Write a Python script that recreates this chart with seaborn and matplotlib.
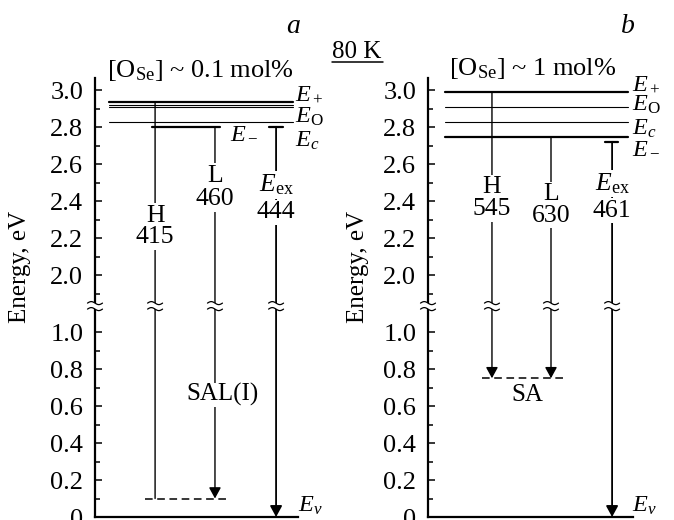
import numpy as np
import pandas as pd
import matplotlib
matplotlib.use("Agg")
import matplotlib.pyplot as plt
import matplotlib.transforms as mtransforms
from matplotlib.lines import Line2D
from matplotlib.patches import Polygon
import seaborn as sns

# ---------------- data ----------------
titles = [r"[O$_{\mathrm{Se}}$] ~ 0.1 mol%", r"[O$_{\mathrm{Se}}$] ~ 1 mol%"]
panel_letters = ["a", "b"]
temperature = "80 K"

# energy levels (eV)
levels_a_names = ["E+", "EO", "EO2", "Ec", "E-"]
levels_a_E = [2.937, 2.918, 2.908, 2.829, 2.801]
levels_a_weight = ["thick", "thin", "thin", "thin", "thick"]
levels_b_names = ["E+", "EO", "Ec", "E-"]
levels_b_E = [2.991, 2.910, 2.825, 2.748]
levels_b_weight = ["thick", "thin", "thin", "thick"]

# transitions
transitions = ["H", "L", "Eex"]
wavelengths_a = [415, 460, 444]
start_a = [2.937, 2.801, 2.801]
end_a = [0.10, 0.10, 0.0]
arrow_a = [False, True, True]
wavelengths_b = [545, 630, 461]
start_b = [2.991, 2.748, 2.72]
end_b = [0.75, 0.75, 0.0]
arrow_b = [True, True, True]

# acceptor levels
sal_E = 0.10
sa_E = 0.75

major_ticks = [0, 0.2, 0.4, 0.6, 0.8, 1.0, 2.0, 2.2, 2.4, 2.6, 2.8, 3.0]
major_labels = ["0", "0.2", "0.4", "0.6", "0.8", "1.0", "2.0", "2.2", "2.4", "2.6", "2.8", "3.0"]
minor_ticks = [0.1, 0.3, 0.5, 0.7, 0.9, 1.9, 2.1, 2.3, 2.5, 2.7, 2.9]

# ---------------- layout (positions in axes x units 0..1) ----------------
lay = {
    "a": dict(
        rect=[95 / 674, 3 / 520, 203 / 674, 439 / 520],
        level_span={"E+": (0.069, 0.975), "EO": (0.069, 0.975), "EO2": (0.069, 0.975),
                    "Ec": (0.069, 0.975), "E-": (0.281, 0.616)},
        tx=[0.296, 0.591, 0.892],
        cap=(0.857, 0.926),
        dash=(0.246, 0.665),
        lab1_y=[2.288, 2.504, 2.450], lab2_y=[2.171, 2.378, 2.306],
        elabels=[(r"$E_+$", 0.985, 2.946), (r"$E_{\mathrm{O}}$", 0.985, 2.822),
                 (r"$E_c$", 0.985, 2.692), (r"$E_-$", 0.665, 2.739)],
        ev=(1.0, 0.027),
        acc_label=("SAL(I)", 0.626, 0.66),
    ),
    "b": dict(
        rect=[428 / 674, 3 / 520, 205 / 674, 439 / 520],
        level_span={"E+": (0.083, 0.976), "EO": (0.083, 0.976),
                    "Ec": (0.083, 0.976), "E-": (0.083, 0.976)},
        tx=[0.312, 0.600, 0.898],
        cap=(0.863, 0.927),
        dash=(0.263, 0.668),
        lab1_y=[2.441, 2.405, 2.459], lab2_y=[2.324, 2.288, 2.315],
        elabels=[(r"$E_+$", 0.995, 3.0), (r"$E_{\mathrm{O}}$", 0.995, 2.89),
                 (r"$E_c$", 0.995, 2.757), (r"$E_-$", 0.995, 2.66)],
        ev=(0.995, 0.027),
        acc_label=("SA", 0.483, 0.66),
    ),
}

# ---------------- style ----------------
sns.set_theme(style="ticks")
plt.rcParams.update({
    "font.family": ["Liberation Serif", "DejaVu Serif"],
    "mathtext.fontset": "custom",
    "mathtext.rm": "Liberation Serif",
    "mathtext.it": "Liberation Serif:italic",
    "mathtext.bf": "Liberation Serif:bold",
    "axes.edgecolor": "black",
    "axes.linewidth": 1.5,
    "xtick.color": "black",
    "ytick.color": "black",
    "text.color": "black",
    "axes.facecolor": "white",
    "figure.facecolor": "white",
})

# broken energy axis
LO, HI, GAP = 1.13, 1.842, 0.02
E_BREAK = (LO + HI) / 2


def fwd(E):
    E = np.asarray(E, dtype=float)
    return np.where(E <= LO, E,
                    np.where(E >= HI, E - (HI - LO) + GAP, LO + (E - LO) / (HI - LO) * GAP))


def inv(t):
    t = np.asarray(t, dtype=float)
    return np.where(t <= LO, t,
                    np.where(t >= LO + GAP, t + (HI - LO) - GAP, LO + (t - LO) / GAP * (HI - LO)))


fig = plt.figure(figsize=(6.74, 5.2), dpi=100)


def break_mark(ax, x):
    tr = fig.dpi_scale_trans + mtransforms.ScaledTranslation(x, E_BREAK, ax.transData)
    u = np.linspace(-0.075, 0.075, 50)
    wave = 0.015 * np.sin(2 * np.pi * (u + 0.075) / 0.15)
    up = wave + 0.03
    lo = wave - 0.03
    poly = np.concatenate([np.column_stack([u, up]), np.column_stack([u[::-1], lo[::-1]])])
    ax.add_patch(Polygon(poly, closed=True, facecolor="white", edgecolor="none",
                         transform=tr, zorder=6, clip_on=False))
    for c in (up, lo):
        ax.add_line(Line2D(u, c, color="black", lw=0.9, transform=tr, zorder=7, clip_on=False))


panels = [
    ("a", levels_a_names, levels_a_E, levels_a_weight, wavelengths_a, start_a, end_a, arrow_a, sal_E),
    ("b", levels_b_names, levels_b_E, levels_b_weight, wavelengths_b, start_b, end_b, arrow_b, sa_E),
]

for key, names, Es, weights, wls, starts, ends, arrows, accE in panels:
    L = lay[key]
    ax = fig.add_axes(L["rect"])

    # horizontal energy levels via seaborn
    rows = []
    for n, e, w in zip(names, Es, weights):
        x0, x1 = L["level_span"][n]
        rows.append(dict(x=x0, E=e, level=n, weight=w))
        rows.append(dict(x=x1, E=e, level=n, weight=w))
    df = pd.DataFrame(rows)
    sns.lineplot(data=df, x="x", y="E", units="level", estimator=None, size="weight",
                 sizes={"thick": 1.6, "thin": 0.8}, color="black", legend=False,
                 sort=False, ax=ax)

    # acceptor level (dashed)
    acc = pd.DataFrame({"x": list(L["dash"]), "E": [accE, accE]})
    sns.lineplot(data=acc, x="x", y="E", color="black", lw=1.1, ax=ax,
                 linestyle=(0, (5, 3)), legend=False)

    # Eex start cap
    ax.plot(list(L["cap"]), [starts[2], starts[2]], color="black", lw=1.6)

    ax.set_yscale("function", functions=(fwd, inv))
    ax.set_xlim(0, 1)
    ax.set_ylim(0, 3.065)
    ax.set_xlabel("")
    ax.set_ylabel("")

    # transitions
    for i, (t, wl, s, e, arr) in enumerate(zip(transitions, wls, starts, ends, arrows)):
        x = L["tx"][i]
        style = "-|>,head_length=0.55,head_width=0.3" if arr else "-"
        lw = 1.3 if t == "Eex" else 1.0
        ax.annotate("", xy=(x, e), xytext=(x, s),
                    arrowprops=dict(arrowstyle=style, color="black", lw=lw,
                                    shrinkA=0, shrinkB=0, mutation_scale=12),
                    zorder=2)
        top = r"$E_{\mathrm{ex}}$" if t == "Eex" else t
        bb = dict(facecolor="white", edgecolor="none", pad=1.2)
        ax.text(x, L["lab1_y"][i], top, ha="center", va="baseline",
                fontsize=18.5, bbox=bb, zorder=4)
        ax.text(x, L["lab2_y"][i], str(wl), ha="center", va="baseline",
                fontsize=18.5, bbox=bb, zorder=4)

    # level labels
    for txt, x, y in L["elabels"]:
        ax.text(x, y, txt, ha="left", va="baseline", fontsize=17.5, clip_on=False)
    ax.text(L["ev"][0], L["ev"][1], r"$E_v$", ha="left", va="baseline", fontsize=17.5,
            clip_on=False)
    al, ax_x, ay = L["acc_label"]
    ax.text(ax_x, ay, al, ha="center", va="center", fontsize=18,
            bbox=dict(facecolor="white", edgecolor="none", pad=0.5), zorder=4)

    # axis style
    ax.set_yticks(major_ticks)
    ax.set_yticklabels(major_labels)
    ax.set_yticks(minor_ticks, minor=True)
    ax.set_xticks([])
    ax.tick_params(axis="y", which="both", direction="in", width=1.1, labelsize=19, pad=8.5)
    ax.tick_params(axis="y", which="major", length=5)
    ax.tick_params(axis="y", which="minor", length=3.5)
    sns.despine(ax=ax)
    for sp in ("left", "bottom"):
        ax.spines[sp].set_linewidth(1.6)

    # axis breaks
    break_mark(ax, 0.0)
    for x in L["tx"]:
        break_mark(ax, x)

# figure texts
fig.text(293 / 674, 1 - 33 / 520, "a", style="italic", fontsize=20, ha="center", va="baseline")
fig.text(628 / 674, 1 - 33 / 520, "b", style="italic", fontsize=20, ha="center", va="baseline")
fig.text(357 / 674, 1 - 58 / 520, temperature, fontsize=18, ha="center", va="baseline")
fig.add_artist(Line2D([332 / 674, 383 / 674], [1 - 62 / 520, 1 - 62 / 520],
                      transform=fig.transFigure, color="black", lw=1.1))
fig.text(200 / 674, 1 - 77 / 520, titles[0], fontsize=19, ha="center", va="baseline")
fig.text(533 / 674, 1 - 75 / 520, titles[1], fontsize=19, ha="center", va="baseline")
fig.text(20 / 674, 1 - 267 / 520, "Energy, eV", rotation=90, fontsize=18, ha="center", va="center")
fig.text(358 / 674, 1 - 267 / 520, "Energy, eV", rotation=90, fontsize=18, ha="center", va="center")

fig.savefig("out.png", dpi=100)
